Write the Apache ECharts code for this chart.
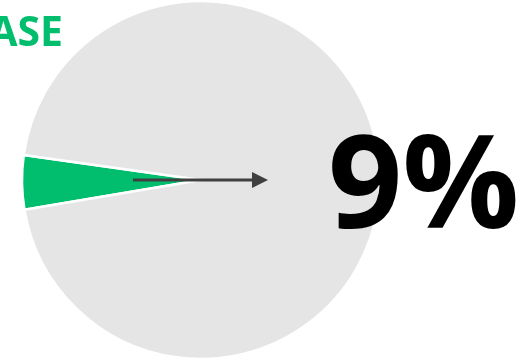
<!DOCTYPE html>
<html>
<head>
<meta charset="utf-8">
<script src="https://cdn.jsdelivr.net/npm/echarts@6/dist/echarts.min.js"></script>
<style>
  html, body { margin: 0; padding: 0; background: #fff; }
  #chart { width: 531px; height: 360px; }
</style>
</head>
<body>
<div id="chart"></div>
<script>
// share of the highlighted slice vs the rest
const sliceNames = ['highlight', 'rest'];
const sliceValues = [4.9, 95.1];
const sliceColors = ['#00BE6E', '#E5E5E5'];
const headline = '9%';
const tagText = 'INCREASE';

const chart = echarts.init(document.getElementById('chart'));

chart.setOption({
  animation: false,
  series: [
    {
      type: 'pie',
      center: [201, 180],
      radius: [0, 179],
      startAngle: 189.6,
      clockwise: true,
      silent: true,
      z: 1,
      label: { show: false },
      labelLine: { show: false },
      itemStyle: { borderColor: '#fff', borderWidth: 2.5 },
      data: sliceNames.map((n, i) => ({
        name: n,
        value: sliceValues[i],
        itemStyle: { color: sliceColors[i] },
      })),
    },
  ],
  graphic: [
    {
      type: 'text',
      right: 531 - 63,
      top: 14,
      z: 100,
      style: {
        text: tagText,
        fill: '#00BE6E',
        font: 'bold 41px "Open Sans"',
        textAlign: 'right',
      },
    },
    {
      type: 'line',
      z: 100,
      shape: { x1: 133, y1: 180, x2: 254, y2: 180 },
      style: { stroke: '#404040', lineWidth: 3 },
    },
    {
      type: 'polygon',
      z: 100,
      shape: { points: [[252, 172], [268, 180], [252, 188]] },
      style: { fill: '#404040' },
    },
    {
      type: 'text',
      left: 328,
      top: 126,
      z: 100,
      style: {
        text: headline,
        fill: '#000',
        font: 'bold 130px "Open Sans"',
      },
    },
  ],
});
</script>
</body>
</html>
